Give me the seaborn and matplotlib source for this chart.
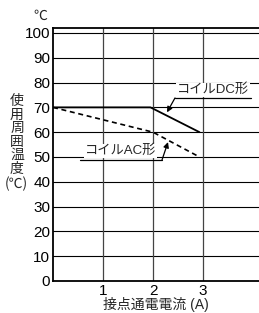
import matplotlib
matplotlib.use("Agg")
import matplotlib.pyplot as plt
import seaborn as sns
import pandas as pd

# data
dc_current = [0.0, 1.95, 2.93]
dc_temp = [70, 70, 60]
ac_current = [0.0, 2.0, 2.93]
ac_temp = [70, 60, 50]
x_ticks = [1, 2, 3]
y_ticks = [0, 10, 20, 30, 40, 50, 60, 70, 80, 90, 100]
dc_label = "コイルDC形"
ac_label = "コイルAC形"
x_label = "接点通電電流 (A)"
y_label_chars = "使用周囲温度"

sns.set_style("white")
plt.rcParams['font.family'] = ['Liberation Sans', 'Noto Sans CJK JP', 'DejaVu Sans']

W, H = 259, 313
fig = plt.figure(figsize=(W / 100, H / 100), dpi=100)
ax = fig.add_axes([53 / W, 1 - 281 / H, (259 - 53) / W, (281 - 28) / H])

ax.set_xlim(0, 4.12)
ax.set_ylim(0, 102.0)

for y in y_ticks[1:]:
    ax.axhline(y, color="black", lw=0.8, zorder=1)
for x in x_ticks:
    ax.axvline(x, color="#444444", lw=0.9, zorder=1)

df_dc = pd.DataFrame({"current": dc_current, "temp": dc_temp})
df_ac = pd.DataFrame({"current": ac_current, "temp": ac_temp})
sns.lineplot(data=df_dc, x="current", y="temp", ax=ax, color="black", lw=1.3, zorder=3)
sns.lineplot(data=df_ac, x="current", y="temp", ax=ax, color="black", lw=1.2,
             dashes=False, zorder=3, linestyle=(0, (3.0, 2.2)))

ax.set_xticks(x_ticks)
ax.set_yticks(y_ticks)
ax.tick_params(axis="both", length=0, labelsize=11, colors="black", pad=2)
ax.set_xlabel("")
ax.set_ylabel("")

for s in ["left", "bottom", "top"]:
    ax.spines[s].set_visible(True)
    ax.spines[s].set_color("black")
    ax.spines[s].set_linewidth(1.3)
ax.spines["right"].set_visible(False)

# annotations
ax.text(3.2, 77.2, dc_label, ha="center", va="center", fontsize=9.5,
        bbox=dict(facecolor="white", edgecolor="none", pad=0.5), zorder=4)
ax.plot([2.44, 3.95], [73.8, 73.8], color="black", lw=0.9, zorder=4)
ax.annotate("", xy=(2.28, 68.0), xytext=(2.44, 73.8),
            arrowprops=dict(arrowstyle="-|>", color="black", lw=0.9, mutation_scale=8,
                            shrinkA=0, shrinkB=0), zorder=4)

ax.text(1.35, 52.6, ac_label, ha="center", va="center", fontsize=9.5,
        bbox=dict(facecolor="white", edgecolor="none", pad=0.5), zorder=4)
ax.plot([0.54, 2.18], [48.8, 48.8], color="black", lw=0.9, zorder=4)
ax.annotate("", xy=(2.3, 56.0), xytext=(2.18, 48.8),
            arrowprops=dict(arrowstyle="-|>", color="black", lw=0.9, mutation_scale=8,
                            shrinkA=0, shrinkB=0), zorder=4)

# axis labels
fig.text(156 / W, 1 - 304 / H, x_label, ha="center", va="center", fontsize=10)
fig.text(40 / W, 1 - 16 / H, "℃", ha="center", va="center", fontsize=10,
         family=['Noto Sans CJK JP', 'DejaVu Sans'])
fig.text(17 / W, 1 - 135 / H, "\n".join(y_label_chars), ha="center", va="center",
         fontsize=10, linespacing=0.95)
fig.text(16 / W, 1 - 184 / H, "(℃)", ha="center", va="center", fontsize=10,
         family=['Noto Sans CJK JP', 'DejaVu Sans'])

fig.savefig("out.png", dpi=100)
